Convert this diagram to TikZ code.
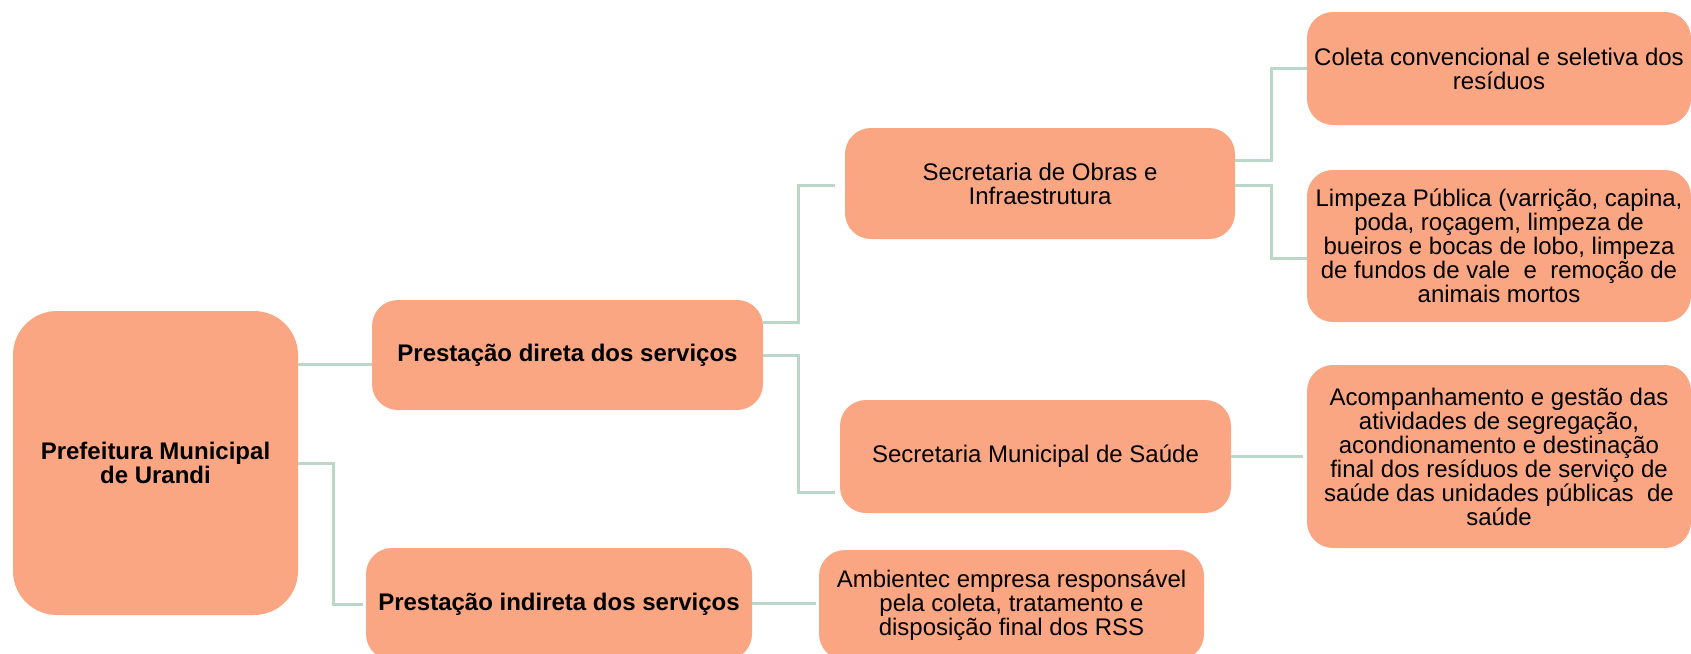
\documentclass[tikz,border=0pt]{standalone}
\usepackage{fontspec}
\setmainfont{Liberation Sans}
\usepackage{xcolor}
\usepackage{tikz}
\usetikzlibrary{positioning, calc}

\definecolor{boxfill}{RGB}{250,166,131}
\definecolor{linkgreen}{RGB}{186,215,201}

\begin{document}
\begin{tikzpicture}[x=0.5pt, y=-0.5pt]
        \tikzstyle{box_style} = [rectangle, rounded corners=13pt, inner sep=0pt, align=center, fill=boxfill, draw=none, font=\fontsize{12}{12}\selectfont]
        \tikzstyle{root_style} = [box_style, rounded corners=22pt, font=\fontsize{12}{12}\selectfont\bfseries]
        \tikzstyle{link_style} = [line width=1.5pt, draw=linkgreen]

        \useasboundingbox (0,0) rectangle (1691,653);

        % Root
        \node (pref) [root_style, minimum width=142.5pt, minimum height=152pt] at (155.5,463) {Prefeitura Municipal\\de Urandi};

        % Kind of service
        \node (direta) [box_style, minimum width=195.5pt, minimum height=55pt, font=\fontsize{12}{12}\selectfont\bfseries] at (567.5,355) {Presta\c{c}\~ao direta dos servi\c{c}os};
        \node (indireta) [box_style, minimum width=193pt, minimum height=56pt, font=\fontsize{12}{12}\selectfont\bfseries] at (559,604) {Presta\c{c}\~ao indireta dos servi\c{c}os};

        % Secretarias
        \node (obras) [box_style, minimum width=195pt, minimum height=55.5pt] at (1040,183.5) {Secretaria de Obras e\\Infraestrutura};
        \node (saude) [box_style, minimum width=195.5pt, minimum height=56.5pt] at (1035.5,456.5) {Secretaria Municipal de Saúde};
        \node (ambientec) [box_style, minimum width=192.5pt, minimum height=55pt] at (1011.5,605) {Ambientec empresa responsável\\pela coleta, tratamento e\\disposição final dos RSS};

        % Services
        \node (coleta) [box_style, minimum width=192pt, minimum height=56.5pt] at (1499,68.5) {Coleta convencional e seletiva dos\\resíduos};
        \node (limpeza) [box_style, minimum width=192pt, minimum height=76pt] at (1499,246) {Limpeza Pública (varrição, capina,\\poda, roçagem, limpeza de\\bueiros e bocas de lobo, limpeza\\de fundos de vale\ \ e\ \ remoção de\\animais mortos};
        \node (acomp) [box_style, minimum width=192pt, minimum height=91.5pt] at (1499,456.5) {Acompanhamento e gestão das\\atividades de segregação,\\acondionamento e destinação\\final dos resíduos de serviço de\\saúde das unidades públicas\ \ de\\saúde};

        % Links from root
        \draw [link_style] (pref.east |- 0,364) -- (direta.west |- 0,364);
        \draw [link_style] (pref.east) -- ++(35,0) |- ([xshift=-1.5pt]indireta.west);

        % Links from direta
        \draw [link_style] (direta.east |- 0,322) -- ++(35,0) |- ([xshift=-5pt]obras.west |- 0,185);
        \draw [link_style] (direta.east) -- ++(35,0) |- ([xshift=-2.5pt]saude.west |- 0,492);

        % Links from obras
        \draw [link_style] (obras.east |- 0,160) -- ++(36,0) |- (coleta.west);
        \draw [link_style] (obras.east |- 0,185) -- ++(36,0) |- (limpeza.west |- 0,258);

        % Other links
        \draw [link_style] (saude.east) -- ([xshift=-2pt]acomp.west);
        \draw [link_style] (indireta.east |- 0,603) -- ([xshift=-1.5pt]ambientec.west |- 0,603);
    \end{tikzpicture}
\end{document}
